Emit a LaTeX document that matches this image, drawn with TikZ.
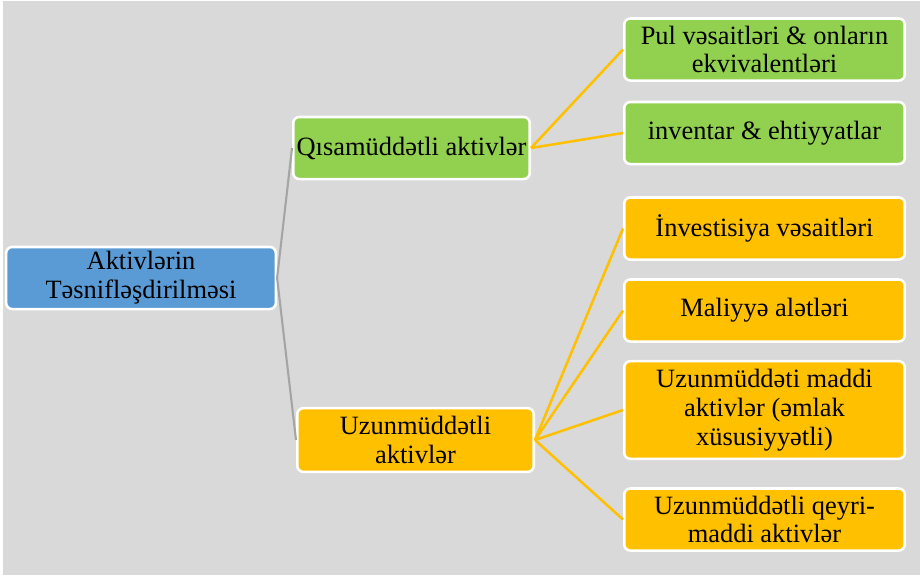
\documentclass[tikz,border=0pt]{standalone}
\usepackage{fontspec}
\setmainfont{Liberation Serif}
\usepackage{tikz}

\definecolor{rootblue}{HTML}{5B9BD5}
\definecolor{shortgreen}{HTML}{92D050}
\definecolor{longorange}{HTML}{FFC000}
\definecolor{backgray}{HTML}{D9D9D9}
\definecolor{linegray}{HTML}{A5A5A5}

\begin{document}
\begin{tikzpicture}[x=0.025cm,y=-0.025cm,
        box/.style={draw=white, line width=1.8pt, rounded corners=0.15cm,
            align=center, inner sep=0pt, minimum height=1.55cm,
            font=\fontsize{18.8}{20.5}\selectfont},
        rootbox/.style={box, fill=rootblue, minimum width=6.74cm},
        midbox/.style={box, minimum width=5.91cm},
        leafbox/.style={box, minimum width=7.01cm},
        grayline/.style={draw=linegray, line width=1.5pt},
        orangeline/.style={draw=longorange, line width=1.8pt}]

        \def\leafx{764.5}

        % background
        \useasboundingbox (0,0) rectangle (920,575);
        \fill[backgray] (3,1) rectangle (920,575);

        % root and the two groups
        \node[rootbox] (root) at (141,278) {Aktivlərin\\Təsnifləşdirilməsi};
        \node[midbox, fill=shortgreen] (qisa) at (411.5,148) {Qısamüddətli aktivlər};
        \node[midbox, fill=longorange, minimum height=1.59cm] (uzun) at (415.5,440)
            {Uzunmüddətli\\aktivlər};

        % short term
        \node[leafbox, fill=shortgreen] (pul) at (\leafx,49.5)
            {Pul vəsaitləri \& onların\\ekvivalentləri};
        \node[leafbox, fill=shortgreen] (inventar) at (\leafx,133)
            {inventar \& ehtiyyatlar};

        % long term
        \node[leafbox, fill=longorange] (invest) at (\leafx,228.5)
            {İnvestisiya vəsaitləri};
        \node[leafbox, fill=longorange] (maliyye) at (\leafx,310.5)
            {Maliyyə alətləri};
        \node[leafbox, fill=longorange, minimum height=2.44cm] (maddi) at (\leafx,410)
            {Uzunmüddəti maddi\\aktivlər (əmlak\\xüsusiyyətli)};
        \node[leafbox, fill=longorange] (qeyri) at (\leafx,519.5)
            {Uzunmüddətli qeyri-\\maddi aktivlər};

        % connectors
        \draw[grayline] (root.east) -- (qisa.west);
        \draw[grayline] (root.east) -- (uzun.west);
        \foreach \n in {pul,inventar}
            \draw[orangeline] (qisa.east) -- (\n.west);
        \foreach \n in {invest,maliyye,maddi,qeyri}
            \draw[orangeline] (uzun.east) -- (\n.west);
    \end{tikzpicture}
\end{document}
